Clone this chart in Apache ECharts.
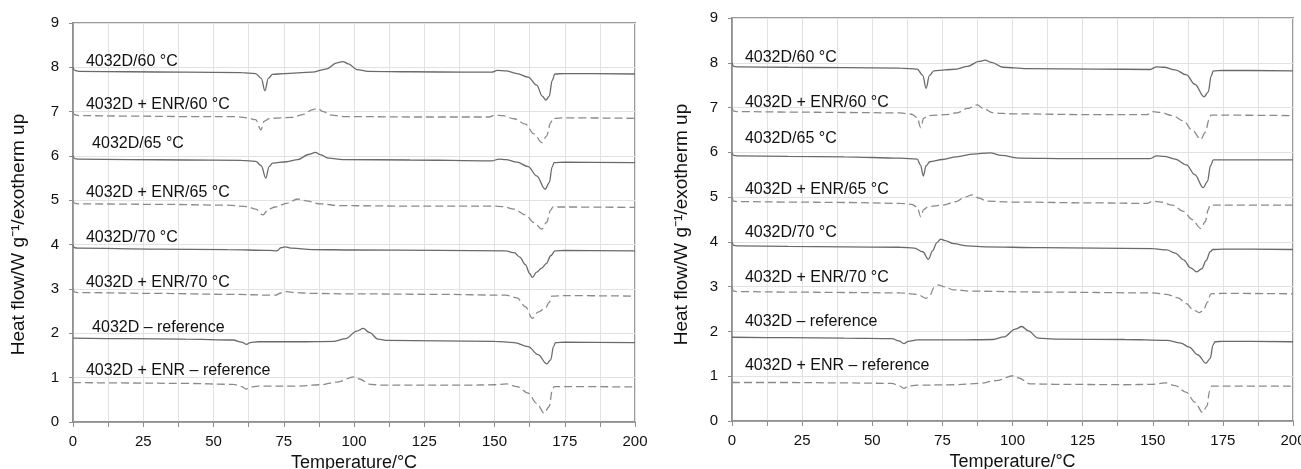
<!DOCTYPE html>
<html>
<head>
<meta charset="utf-8">
<script src="https://cdn.jsdelivr.net/npm/echarts@6/dist/echarts.min.js"></script>
<style>html,body{margin:0;padding:0;background:#fff;}#c{width:1301px;height:469px;}</style>
</head>
<body>
<div id="c"></div>
<script>
// ---------- data ----------
const seriesNames = ['4032D/60 °C','4032D + ENR/60 °C','4032D/65 °C','4032D + ENR/65 °C','4032D/70 °C','4032D + ENR/70 °C','4032D – reference','4032D + ENR – reference'];
const dashed = [false,true,false,true,false,true,false,true];
const xTicks = [0,25,50,75,100,125,150,175,200];
const yTicks = [0,1,2,3,4,5,6,7,8,9];

// left panel curves
const L1 = [[0,8.0],[0.6,7.93],[2,7.91],[20,7.9],[40,7.89],[60,7.88],[65,7.86],[67,7.75],[68.3,7.47],[69.5,7.75],[71,7.84],[75,7.86],[85,7.89],[90,7.96],[94,8.1],[96,8.13],[98,8.08],[101,7.95],[105,7.91],[120,7.9],[140,7.89],[149,7.89],[151,7.93],[154,7.92],[158,7.86],[162,7.78],[165,7.6],[167,7.35],[168.3,7.26],[169.5,7.35],[170.5,7.7],[171.5,7.85],[175,7.86],[200,7.85]];
const L2 = [[0,7.0],[0.6,6.93],[2,6.91],[20,6.9],[40,6.89],[58,6.89],[62,6.86],[65,6.82],[66.9,6.59],[68,6.78],[70,6.85],[78,6.87],[82,6.94],[85,7.04],[87,7.07],[89,7.0],[92,6.92],[97,6.89],[120,6.88],[148,6.88],[150.2,6.92],[153,6.91],[157,6.84],[161,6.72],[164,6.5],[166.9,6.3],[168.5,6.45],[170,6.75],[170.8,6.85],[175,6.86],[200,6.85]];
const L3 = [[0,6.01],[0.6,5.94],[2,5.93],[20,5.92],[40,5.91],[60,5.9],[65,5.88],[67,5.78],[68.6,5.5],[69.8,5.76],[71,5.84],[76,5.87],[80,5.92],[84,6.04],[86.3,6.08],[88,6.03],[91,5.95],[96,5.92],[120,5.91],[149,5.89],[151.6,5.93],[154,5.92],[158,5.86],[162,5.76],[165,5.55],[168,5.25],[169.5,5.4],[170.5,5.75],[171.2,5.85],[175,5.86],[200,5.85]];
const L4 = [[0,5.0],[0.6,4.93],[2,4.92],[30,4.91],[55,4.89],[62,4.86],[65,4.8],[67.6,4.67],[69.5,4.8],[72,4.85],[76,4.93],[80,5.03],[83,4.99],[88,4.92],[95,4.88],[120,4.87],[150,4.87],[153,4.86],[157,4.8],[161,4.67],[164,4.5],[166.9,4.35],[168.5,4.5],[170,4.78],[170.8,4.85],[175,4.85],[200,4.84]];
const L5 = [[0,3.99],[0.6,3.93],[2,3.92],[30,3.9],[55,3.89],[70,3.87],[72.5,3.86],[74,3.93],[75.5,3.95],[78,3.92],[85,3.89],[100,3.88],[130,3.87],[154,3.86],[157,3.82],[159,3.72],[161,3.55],[162.5,3.35],[163.5,3.26],[165,3.38],[166.8,3.47],[168.5,3.58],[170,3.75],[171.5,3.86],[175,3.87],[200,3.86]];
const L6 = [[0,3.02],[0.6,2.93],[2,2.92],[30,2.9],[55,2.88],[72,2.86],[74,2.91],[76,2.94],[79,2.92],[85,2.9],[100,2.89],[130,2.88],[154,2.86],[158,2.8],[161,2.6],[163.5,2.34],[165.5,2.48],[168,2.56],[169.5,2.7],[170.4,2.84],[175,2.85],[200,2.84]];
const L7 = [[0,1.89],[20,1.88],[40,1.87],[57,1.85],[60,1.8],[61.8,1.75],[63,1.79],[66,1.81],[80,1.81],[93,1.82],[97,1.88],[101,2.05],[103.3,2.11],[105.5,2.02],[108.5,1.87],[112,1.84],[130,1.83],[150,1.82],[157,1.79],[162,1.7],[165.5,1.52],[168.6,1.31],[170,1.4],[171,1.7],[171.7,1.79],[175,1.8],[200,1.79]];
const L8 = [[0,0.89],[20,0.88],[40,0.87],[57,0.85],[60,0.8],[61.6,0.74],[63,0.79],[66,0.81],[80,0.81],[88,0.84],[94,0.9],[100,1.02],[102,0.97],[105.7,0.85],[110,0.83],[140,0.83],[150,0.84],[154.3,0.86],[158,0.8],[162,0.65],[165,0.42],[167.7,0.2],[169.5,0.35],[170.5,0.7],[171.2,0.8],[175,0.8],[200,0.79]];

// right panel curves
const R1 = [[0,8.0],[0.6,7.92],[2,7.91],[20,7.9],[40,7.89],[60,7.88],[66,7.86],[68,7.72],[69.2,7.43],[70.4,7.72],[72,7.82],[76,7.84],[80,7.86],[84,7.92],[88,8.03],[90.2,8.06],[92.5,8.01],[96.6,7.9],[105,7.87],[130,7.86],[149,7.85],[151.4,7.91],[154,7.9],[158,7.84],[162,7.73],[165,7.52],[168.3,7.24],[169.8,7.35],[170.8,7.7],[171.6,7.82],[175,7.83],[200,7.82]];
const R2 = [[0,7.0],[0.6,6.92],[2,6.91],[20,6.9],[40,6.89],[60,6.88],[64,6.85],[66,6.78],[67.3,6.55],[68.3,6.76],[70,6.82],[76,6.84],[80,6.88],[84,6.98],[87.5,7.06],[89.5,6.98],[93.2,6.88],[100,6.86],[130,6.84],[148,6.84],[150,6.91],[153,6.89],[157,6.82],[161,6.7],[164,6.5],[167.1,6.29],[168.8,6.45],[170,6.72],[170.7,6.83],[175,6.83],[200,6.82]];
const R3 = [[0,5.99],[0.6,5.93],[2,5.92],[20,5.91],[40,5.9],[60,5.87],[66,5.85],[67.2,5.72],[68.2,5.47],[69.2,5.7],[70.5,5.79],[75,5.84],[80,5.9],[86,5.96],[92,5.99],[96,5.93],[102.7,5.87],[120,5.86],[149,5.86],[151.4,5.92],[154,5.91],[158,5.85],[162,5.72],[165,5.5],[168,5.21],[169.5,5.35],[170.6,5.7],[171.6,5.83],[175,5.83],[200,5.83]];
const R4 = [[0,5.01],[0.6,4.91],[2,4.9],[20,4.89],[40,4.88],[60,4.86],[64,4.84],[66,4.78],[67.3,4.56],[68.3,4.72],[70,4.79],[75,4.82],[80,4.9],[83,5.0],[85.6,5.05],[88,4.98],[90.8,4.91],[100,4.89],[130,4.87],[148,4.86],[150,4.91],[153,4.89],[157,4.82],[161,4.68],[164,4.5],[167.1,4.3],[168.7,4.45],[169.8,4.72],[170.4,4.82],[175,4.82],[200,4.82]];
const R5 = [[0,4.0],[0.6,3.92],[2,3.91],[20,3.9],[40,3.89],[60,3.88],[65,3.86],[68,3.78],[70,3.61],[71.5,3.8],[73,3.98],[74.4,4.06],[76,4.03],[79,3.96],[84,3.91],[90,3.89],[110,3.87],[150,3.85],[155,3.82],[158,3.75],[161,3.6],[163.5,3.42],[165.7,3.33],[167.5,3.4],[169,3.58],[170.5,3.78],[171.4,3.83],[175,3.84],[200,3.83]];
const R6 = [[0,3.0],[0.6,2.9],[2,2.89],[20,2.88],[40,2.87],[60,2.86],[66,2.83],[69.2,2.74],[70.5,2.8],[72,2.98],[73.6,3.04],[75.5,3.0],[79,2.93],[85,2.9],[110,2.88],[150,2.86],[155,2.83],[159,2.75],[162,2.62],[164.5,2.48],[166.6,2.42],[168,2.47],[169.5,2.65],[170.7,2.84],[175,2.85],[200,2.84]];
const R7 = [[0,1.87],[20,1.86],[40,1.85],[57,1.84],[59.5,1.79],[61.3,1.73],[62.8,1.78],[66,1.81],[80,1.81],[93,1.82],[97,1.88],[101,2.05],[103.3,2.11],[105.5,2.02],[109.2,1.85],[115,1.83],[140,1.82],[155,1.8],[160,1.74],[163,1.65],[166,1.48],[169,1.29],[170.5,1.4],[171.5,1.7],[172.2,1.77],[175,1.78],[200,1.77]];
const R8 = [[0,0.86],[20,0.86],[40,0.85],[57,0.84],[59.5,0.79],[61.3,0.73],[62.8,0.78],[66,0.8],[80,0.81],[88,0.84],[94,0.9],[100.3,1.01],[102.3,0.96],[106.2,0.83],[115,0.82],[140,0.81],[150,0.82],[154.4,0.85],[158,0.79],[162,0.64],[165,0.42],[167.8,0.19],[169.3,0.33],[170.3,0.68],[171,0.78],[175,0.78],[200,0.78]];

// curve label anchors (data coords)
const leftLabelAt = [[4.6,8.14],[4.6,7.15],[6.8,6.27],[4.6,5.17],[4.6,4.17],[4.6,3.14],[6.8,2.14],[4.6,1.17]];
const rightLabelAt = [[4.6,8.12],[4.6,7.12],[4.6,6.3],[4.6,5.17],[4.6,4.21],[4.6,3.2],[4.6,2.22],[4.6,1.23]];

const leftCurves = [L1,L2,L3,L4,L5,L6,L7,L8];
const rightCurves = [R1,R2,R3,R4,R5,R6,R7,R8];

// ---------- chart ----------
const FONT = '"Liberation Sans", Arial, Helvetica, sans-serif';
const chart = echarts.init(document.getElementById('c'), null, {renderer:'canvas'});

function xAxis(gi){
  return {
    type:'value', gridIndex:gi, min:0, max:200, interval:12.5,
    name:'Temperature/°C', nameLocation:'middle', nameGap:32,
    nameTextStyle:{fontFamily:FONT, fontSize:18, color:'#111'},
    axisLine:{show:true, onZero:false, lineStyle:{color:'#8c8c8c', width:1.5}},
    axisTick:{show:true, length:5, lineStyle:{color:'#8c8c8c'}},
    axisLabel:{fontFamily:FONT, fontSize:15, color:'#111', margin:12,
      formatter:v => xTicks.indexOf(v) >= 0 ? String(v) : ''},
    splitLine:{show:true, lineStyle:{color:'#e2e2e2', width:1}}
  };
}
function yAxis(gi, gap, pad){
  return {
    type:'value', gridIndex:gi, min:0, max:9, interval:1,
    name:'Heat flow/W g\u207B\u00B9/exotherm up', nameLocation:'middle', nameGap:gap, nameRotate:90,
    nameTextStyle:{fontFamily:FONT, fontSize:19, color:'#111', padding:pad},
    axisLine:{show:true, onZero:false, lineStyle:{color:'#8c8c8c', width:1.5}},
    axisTick:{show:true, length:4, lineStyle:{color:'#8c8c8c'}},
    axisLabel:{fontFamily:FONT, fontSize:15, color:'#111', margin:14,
      formatter:v => yTicks.indexOf(v) >= 0 ? String(v) : ''},
    splitLine:{show:true, lineStyle:{color:'#e2e2e2', width:1}}
  };
}

const series = [];
function addPanel(curves, labelAt, gi){
  curves.forEach((d, i) => {
    series.push({
      type:'line', xAxisIndex:gi, yAxisIndex:gi, name:seriesNames[i],
      data:d, showSymbol:false, smooth:0.35, smoothMonotone:'x',
      lineStyle: dashed[i] ? {color:'#8a8a8a', width:1.3, type:[8,4]} : {color:'#6a6a6a', width:1.3, type:'solid'},
      animation:false, silent:true,
      markPoint:{
        symbol:'circle', symbolSize:0, silent:true, animation:false,
        label:{show:true, position:'right', distance:0, fontFamily:FONT, fontSize:16, color:'#111',
          formatter:seriesNames[i]},
        data:[{coord:labelAt[i]}]
      }
    });
  });
}
addPanel(leftCurves, leftLabelAt, 0);
addPanel(rightCurves, rightLabelAt, 1);

chart.setOption({
  backgroundColor:'#fff',
  animation:false,
  grid:[
    {left:73, top:23, width:562, height:399, containLabel:false, outerBoundsMode:'none', show:true, borderColor:'#9a9a9a', borderWidth:2, backgroundColor:'transparent'},
    {left:732, top:18, width:561, height:403, containLabel:false, outerBoundsMode:'none', show:true, borderColor:'#9a9a9a', borderWidth:2, backgroundColor:'transparent'}
  ],
  xAxis:[xAxis(0), xAxis(1)],
  yAxis:[yAxis(0, 45, [0,24,0,0]), yAxis(1, 41, [0,10,0,0])],
  series:series
});
</script>
</body>
</html>
